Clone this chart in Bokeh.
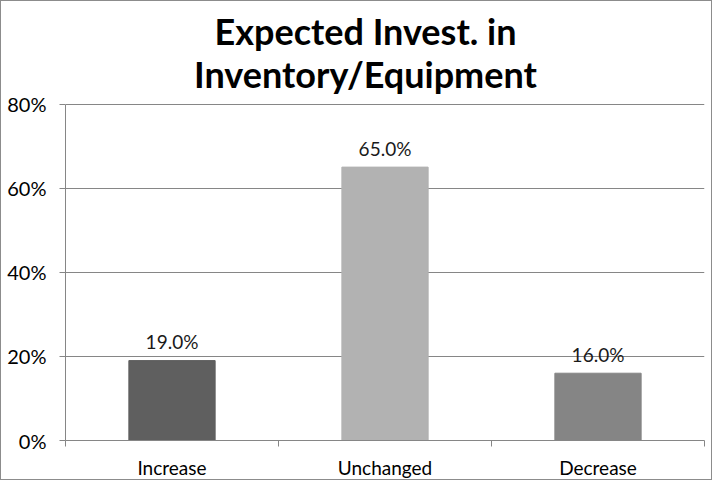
from bokeh.plotting import figure
from bokeh.models import ColumnDataSource, FixedTicker, Range1d
from bokeh.core.properties import value
from bokeh.embed import file_html
from bokeh.resources import INLINE

categories = ["Increase", "Unchanged", "Decrease"]
values = [19.0, 65.0, 16.0]
colors = ["#5f5f5f", "#b2b2b2", "#858585"]
y_ticks = [0, 20, 40, 60, 80]
title_lines = ["Expected Invest. in", "Inventory/Equipment"]

FONT = "Lato"
GRAY = "#868686"

# layout constants (pixels inside the figure)
FIG_W, FIG_H = 712, 480
BORDER_L, BORDER_R, BORDER_B = 64, 9, 39
AXIS_TOP_PX = 103                      # where the top tick (80%) sits
FRAME_H = FIG_H - BORDER_B             # frame starts at the very top
Y_MAX = max(y_ticks) * FRAME_H / (FRAME_H - AXIS_TOP_PX)
TITLE_BASELINES_PX = [39, 82]
TITLE_CENTER_PX = 364
BASELINE_FIX = -9                      # renderer baseline correction


def px_to_y(py):
    return Y_MAX * (FRAME_H - py) / FRAME_H


def px_to_x(px):
    return len(categories) * (px - BORDER_L) / (FIG_W - BORDER_L - BORDER_R)


xs = [i + 0.5 for i in range(len(categories))]
labels = ["%.1f%%" % v for v in values]
src = ColumnDataSource(dict(x=xs, top=values, color=colors, label=labels))

p = figure(width=FIG_W, height=FIG_H, output_backend="svg", toolbar_location=None,
           title=None,
           x_range=Range1d(0, len(categories)), y_range=Range1d(0, Y_MAX),
           min_border_left=BORDER_L, min_border_right=BORDER_R, min_border_top=0,
           min_border_bottom=BORDER_B)
p.styles = {"border": "1px solid #8c8c8c", "box-sizing": "border-box"}
p.outline_line_color = None
p.background_fill_color = "white"

p.vbar(x="x", top="top", width=0.405, color="color", source=src)
p.text(x="x", y="top", text="label", source=src, text_align="center",
       text_baseline="alphabetic", y_offset=-10 + BASELINE_FIX, text_font=value(FONT),
       text_font_size="19px", text_color="#1a1a1a")

# title drawn as text inside the (tall) frame
title_src = ColumnDataSource(dict(
    x=[px_to_x(TITLE_CENTER_PX)] * len(title_lines),
    y=[px_to_y(b) for b in TITLE_BASELINES_PX],
    text=title_lines))
p.text(x="x", y="y", text="text", source=title_src, text_align="center",
       text_baseline="alphabetic", y_offset=BASELINE_FIX, text_font=value(FONT),
       text_font_style=value("bold"), text_font_size="36px", text_color="#000000")

# y axis, bounded to the tick range
ya = p.yaxis[0]
ya.ticker = FixedTicker(ticks=y_ticks, minor_ticks=[])
ya.bounds = (min(y_ticks), max(y_ticks))
ya.major_label_overrides = {t: "%d%%" % t for t in y_ticks}
ya.axis_line_color = GRAY
ya.major_tick_line_color = GRAY
ya.major_tick_out = 6
ya.major_tick_in = 0
ya.minor_tick_line_color = None
ya.major_label_standoff = 13
ya.major_label_text_font = FONT
ya.major_label_text_font_size = "20px"
ya.major_label_text_color = "#000000"

# x axis: labels at category centres, ticks at boundaries
xa = p.xaxis[0]
xa.ticker = FixedTicker(ticks=xs, minor_ticks=list(range(len(categories) + 1)))
xa.major_label_overrides = {x: c for x, c in zip(xs, categories)}
xa.axis_line_color = GRAY
xa.major_tick_line_color = None
xa.minor_tick_line_color = GRAY
xa.minor_tick_out = 6
xa.minor_tick_in = 0
xa.major_label_standoff = 9
xa.major_label_text_font = FONT
xa.major_label_text_font_size = "19px"
xa.major_label_text_color = "#000000"

p.xgrid.grid_line_color = None
p.ygrid.ticker = FixedTicker(ticks=y_ticks)
p.ygrid.grid_line_color = GRAY
p.ygrid.grid_line_width = 1

open("out.html", "w").write(file_html(p, INLINE))
